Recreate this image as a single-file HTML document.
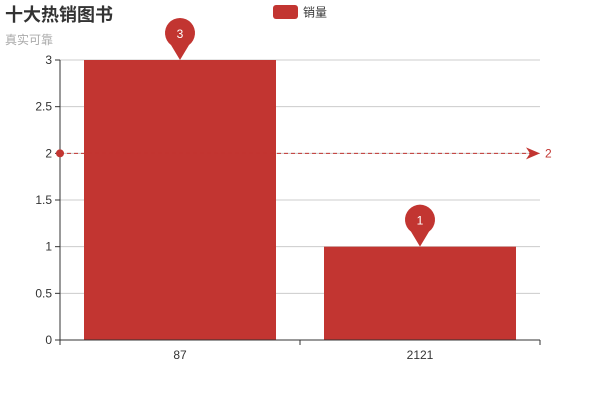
<!DOCTYPE html>
<html><head><meta charset="utf-8"><style>
html,body{margin:0;padding:0;background:#fff;width:600px;height:400px;overflow:hidden}
svg{display:block;font-family:"Liberation Sans","Noto Sans CJK SC",sans-serif}
</style></head><body>
<svg id="c" width="600" height="400">
<text x="5" y="21" font-size="18" font-weight="bold" fill="#333">十大热销图书</text>
<text x="5" y="44" font-size="12" fill="#aaa">真实可靠</text>
<g>
<rect x="273" y="5" width="25" height="14" rx="3" fill="#c23531"/>
<text x="303" y="16.5" font-size="12" fill="#333">销量</text>
</g>
</svg>
<script>
const categories=["87","2121"];
const seriesValues=[3,1];
const yTicks=[0,0.5,1,1.5,2,2.5,3];
const yTickLabels=["0","0.5","1","1.5","2","2.5","3"];
const svg=document.getElementById('c');
const NS='http://www.w3.org/2000/svg';
const L=60,R=540,T=60,B=340,yMax=3;
const y=v=>B-(v/yMax)*(B-T);
const band=(R-L)/categories.length;
const xc=i=>L+band*(i+0.5);
function mk(t,a,p){const e=document.createElementNS(NS,t);for(const k in a)e.setAttribute(k,a[k]);(p||svg).appendChild(e);return e;}
yTicks.forEach((v,i)=>{
  if(v>0){const g=mk('line',{x1:L,x2:R,y1:y(v),y2:y(v),stroke:'#ccc'});
  
  }
  const t=mk('line',{x1:L-5,x2:L,y1:y(v),y2:y(v),stroke:'#333'});
  
  
  const l=mk('text',{x:L-8,y:y(v)+4,'font-size':12,fill:'#333','text-anchor':'end'});
  l.textContent=yTickLabels[i];
  
  
});
categories.forEach((c,i)=>{
  const bw=band*0.8;
  const b=mk('rect',{x:xc(i)-bw/2,y:y(seriesValues[i]),width:bw,height:B-y(seriesValues[i]),fill:'#c23531'});
  
  
  const l=mk('text',{x:xc(i),y:B+19,'font-size':12,fill:'#333','text-anchor':'middle'});
  l.textContent=c;
  
  
});
const ya=mk('line',{x1:L,x2:L,y1:T,y2:B,stroke:'#333'});


const xa=mk('line',{x1:L,x2:R,y1:B,y2:B,stroke:'#333'});


for(let i=0;i<=categories.length;i++){
  const t=mk('line',{x1:L+band*i,x2:L+band*i,y1:B,y2:B+5,stroke:'#333'});
  
  
}
// average mark line
const avg=seriesValues.reduce((a,b)=>a+b,0)/seriesValues.length;
const ml=mk('g',{});


mk('line',{x1:L,x2:R-8,y1:y(avg),y2:y(avg),stroke:'#c23531','stroke-dasharray':'4,3'},ml);
mk('circle',{cx:L,cy:y(avg),r:4,fill:'#c23531'},ml);
mk('path',{d:`M${R-14},${y(avg)-6} L${R},${y(avg)} L${R-14},${y(avg)+6} L${R-10},${y(avg)} Z`,fill:'#c23531'},ml);
const at=mk('text',{x:R+5,y:y(avg)+4,'font-size':12,fill:'#c23531'},ml);
at.textContent=String(+avg.toFixed(2));
// pins for max and min
const mx=seriesValues.indexOf(Math.max(...seriesValues));
const mn=seriesValues.indexOf(Math.min(...seriesValues));
[mx,mn].forEach((i,k)=>{
  const cx=xc(i),tip=y(seriesValues[i]),cy=tip-26,r=15;
  const g=mk('g',{});
  
  
  mk('path',{d:`M${cx},${tip} L${cx-9},${cy+11} A${r},${r} 0 1 1 ${cx+9},${cy+11} Z`,fill:'#c23531'},g);
  const t=mk('text',{x:cx,y:cy+4,'font-size':12,fill:'#fff','text-anchor':'middle'},g);
  t.textContent=seriesValues[i];
});
</script>
</body></html>
